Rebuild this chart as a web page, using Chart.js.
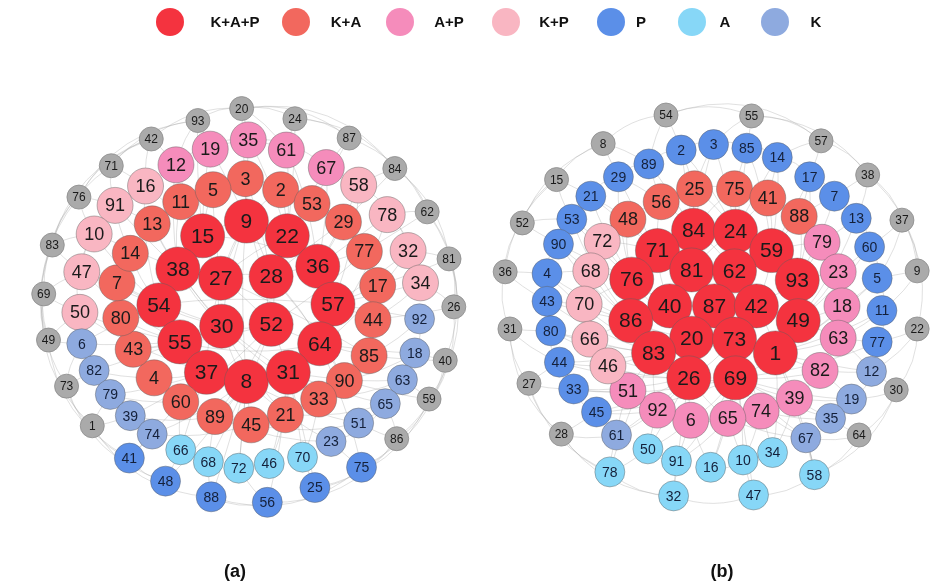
<!DOCTYPE html>
<html>
<head>
<meta charset="utf-8">
<script src="https://cdn.jsdelivr.net/npm/chart.js@4.4.1/dist/chart.umd.min.js"></script>
<style>
  html, body { margin: 0; padding: 0; background: #fff; }
  canvas { display: block; }
</style>
</head>
<body>
<canvas id="net" width="939" height="586"></canvas>
<script>
const categories = ['K+A+P', 'K+A', 'A+P', 'K+P', 'P', 'A', 'K'];
const panelNames = ['(a)', '(b)'];

// panel (a) nodes: [id, x, y] in layout units
const aKAP = [[9, 235, 215], [22, 278, 231], [15, 189, 231], [38, 163, 267], [27, 208, 277], [28, 261, 275], [36, 310, 264], [57, 326, 305], [54, 143, 306], [30, 209, 329], [52, 261, 327], [64, 312, 348], [55, 165, 346], [37, 193, 379], [8, 235, 389], [31, 279, 379]];
const aKA = [[3, 234, 169], [2, 271, 181], [53, 304, 196], [29, 337, 216], [77, 359, 248], [17, 373, 285], [44, 368, 322], [85, 364, 361], [90, 338, 388], [33, 311, 408], [21, 276, 425], [45, 240, 436], [89, 202, 427], [60, 166, 411], [4, 138, 385], [43, 116, 354], [80, 103, 320], [7, 99, 282], [14, 113, 250], [13, 136, 218], [11, 166, 194], [5, 200, 181]];
const aAP = [[19, 197, 137], [12, 161, 154], [35, 237, 127], [61, 277, 138], [67, 319, 157]];
const aKP = [[16, 129, 177], [91, 97, 198], [10, 75, 229], [47, 62, 270], [50, 60, 314], [58, 353, 176], [78, 383, 208], [32, 405, 247], [34, 418, 282]];
const aP = [[41, 112, 472], [48, 150, 497], [88, 198, 514], [56, 257, 520], [25, 307, 504], [75, 356, 482]];
const aA = [[66, 166, 463], [68, 195, 476], [72, 227, 483], [46, 259, 478], [70, 294, 471]];
const aK = [[6, 62, 348], [82, 75, 377], [79, 92, 403], [39, 113, 426], [74, 136, 446], [92, 417, 321], [18, 412, 358], [63, 399, 387], [65, 381, 413], [51, 353, 434], [23, 324, 454]];
const aNone = [[20, 230, 93], [93, 184, 106], [42, 135, 126], [71, 93, 155], [76, 59, 189], [83, 31, 241], [69, 22, 294], [49, 27, 344], [73, 46, 394], [1, 73, 437], [24, 286, 104], [87, 343, 125], [84, 391, 158], [62, 425, 205], [81, 448, 256], [26, 453, 308], [40, 444, 366], [59, 427, 408], [86, 393, 451]];

// panel (b) nodes
const bKAP = [[84, 705, 225], [24, 749, 226], [71, 667, 247], [59, 787, 247], [81, 703, 268], [62, 748, 269], [76, 640, 278], [93, 814, 279], [40, 680, 307], [87, 727, 307], [42, 771, 307], [86, 639, 323], [49, 815, 323], [20, 703, 342], [73, 748, 343], [83, 663, 358], [1, 791, 358], [26, 700, 385], [69, 749, 385]];
const bKA = [[25, 706, 180], [75, 748, 180], [56, 671, 194], [41, 783, 190], [48, 636, 213], [88, 816, 210]];
const bAP = [[79, 840, 238], [23, 857, 270], [18, 861, 307], [63, 857, 342], [82, 838, 377], [39, 811, 407], [74, 776, 421], [65, 741, 429], [6, 702, 431], [92, 667, 420], [51, 636, 399]];
const bKP = [[72, 609, 237], [68, 597, 269], [70, 590, 305], [66, 596, 343], [46, 615, 372]];
const bP = [[2, 692, 138], [3, 726, 132], [85, 761, 136], [14, 793, 146], [89, 658, 153], [29, 626, 167], [17, 827, 167], [21, 597, 188], [7, 853, 188], [53, 577, 213], [13, 876, 212], [90, 563, 240], [60, 890, 243], [4, 551, 272], [5, 898, 277], [43, 551, 302], [11, 903, 312], [80, 555, 334], [77, 898, 346], [44, 564, 368], [33, 579, 397], [45, 603, 422]];
const bK = [[61, 624, 447], [12, 892, 378], [19, 871, 408], [35, 849, 429], [67, 823, 450]];
const bA = [[50, 657, 462], [91, 687, 475], [78, 617, 487], [32, 684, 513], [16, 723, 482], [10, 757, 474], [34, 788, 466], [47, 768, 512], [58, 832, 490]];
const bNone = [[54, 676, 100], [55, 766, 101], [8, 610, 131], [57, 839, 128], [15, 561, 170], [38, 888, 165], [52, 525, 217], [37, 924, 214], [36, 507, 270], [9, 940, 269], [31, 512, 332], [22, 940, 332], [27, 532, 391], [30, 918, 398], [28, 566, 446], [64, 879, 447]];

// links, "id-id"
const aEdges = `9-22 9-15 9-27 9-28 9-30 9-52 9-8 22-36 22-28 22-27 22-57 15-38 15-27 15-54 38-54 38-27 38-30 27-28 27-30 27-52
28-52 28-36 28-64 36-57 36-64 57-64 57-31 54-55 54-30 55-37 55-30 30-52 30-8 52-64 52-31 52-8 64-31 37-8 8-31 37-31
54-57 15-36 38-31 55-64 9-37 3-9 2-22 5-15 11-38 13-38 14-54 7-54 80-55 43-55 4-37 60-37 89-8 45-8 21-31 33-31 90-64
85-64 44-57 17-57 77-36 29-36 53-22 3-28 2-9 5-27 11-27 13-30 7-30 43-52 60-52 89-52 21-30 33-30 90-28 85-27 77-52 29-28
35-9 61-22 19-15 12-38 67-36 16-54 91-13 10-38 47-55 50-37 58-57 78-64 32-31 34-44 6-55 82-4 79-60 39-89 74-45 92-85
18-90 63-33 65-21 51-45 23-89 66-60 68-89 72-8 46-21 70-33 41-74 48-66 88-68 56-72 25-70 75-23 20-35 20-61 93-19 42-12
71-16 76-91 83-10 69-47 49-6 73-82 1-79 24-61 87-67 84-58 62-78 81-32 26-34 40-18 59-63 86-65 20-9 93-15 24-22 87-53
84-29 62-77 81-17 26-44 40-85 59-90 86-51 1-39 73-6 49-50 69-50 83-47 76-10 71-91 42-16 93-12 20-93 20-24 42-71 76-83
69-49 73-1 24-87 84-62 81-26 40-59 59-86 41-48 88-56 25-75 20-84 93-71 83-49 1-41 86-75 62-26 24-84 42-76 14-91 7-47
20-87 20-42 93-76 42-83 71-69 76-49 83-73 69-1 49-41 73-48 1-88 87-62 84-81 62-40 81-59 26-86 40-75 59-25 86-56 75-88
6-79 82-39 79-74 92-63 18-65 63-51 65-23 16-10 91-47 10-50 58-32 78-34 19-61 12-35 35-67 6-54 82-55 79-37 39-37 74-8
92-57 18-64 63-31 65-31 51-8 23-8 66-37 68-8 72-8 46-31 70-31 41-37 48-8 88-8 56-31 25-31 75-64 16-15 91-38 10-54
47-54 50-55 58-36 78-36 32-57 34-57 19-9 12-15 35-22 61-36 67-22 3-2 2-53 53-29 29-77 77-17 17-44 44-85 85-90 90-33
33-21 21-45 45-89 89-60 60-4 4-43 43-80 80-7 7-14 14-13 13-11 11-5 5-3 3-53 5-13 14-80 43-60 89-21 33-85 44-77 29-2`;

const bEdges = `84-24 84-71 84-81 24-59 24-62 71-76 71-81 81-62 81-87 81-40 62-59 62-42 59-93 93-49 93-42 76-86 76-40 40-87 40-20
87-42 87-73 42-49 42-1 49-1 86-83 86-20 83-26 83-20 20-73 20-26 26-69 73-69 73-1 1-69 84-62 71-40 76-20 59-42 62-87
24-81 93-1 86-40 83-73 26-73 69-42 25-84 75-24 41-59 88-59 56-71 48-71 25-24 75-84 41-24 88-93 56-84 48-76 79-59 23-93
18-49 63-49 82-1 39-1 74-69 65-69 6-26 92-26 51-83 79-93 23-49 18-1 63-1 82-69 39-69 74-73 65-26 6-69 92-83 72-71 68-76
70-86 66-86 46-83 72-76 68-86 70-76 66-83 46-26 2-25 3-25 85-75 14-41 17-88 7-88 13-79 60-23 5-18 11-63 77-63 89-56
29-56 21-48 53-72 90-68 4-68 43-70 80-66 44-46 33-51 45-92 2-84 3-24 85-24 14-59 17-59 29-71 21-71 53-76 90-76 4-86
43-86 80-83 44-83 33-26 45-26 61-92 67-74 35-39 19-82 12-82 61-51 67-65 35-74 19-39 12-63 50-6 91-6 78-50 32-91 16-65
10-65 34-74 47-10 58-67 50-92 91-65 16-6 10-74 34-39 58-39 54-2 54-89 55-3 55-85 8-29 8-89 57-14 57-17 38-7 38-13 15-21
15-53 52-90 52-53 37-60 37-5 9-5 9-11 36-4 36-43 31-80 31-44 22-77 22-12 27-33 27-44 30-19 30-12 28-45 28-61 64-35
64-67 28-78 64-58 54-55 8-15 57-38 52-36 31-27 37-9 22-30 28-32 64-30 58-47 32-47 54-8 55-57 15-52 36-31 38-37 27-28
38-9 37-22 31-28 27-78 30-58 55-38 54-57 8-52 15-36 2-3 3-85 85-14 14-17 17-7 7-13 13-60 60-5 5-11 11-77 77-12 12-19
19-35 35-67 67-58 2-89 89-29 29-21 21-53 53-90 90-4 4-43 43-80 80-44 44-33 33-45 45-61 61-78 50-91 16-10 10-34 78-32
2-24 3-84 85-59 14-24 17-93 7-93 13-49 60-49 5-1 11-1 77-69 89-84 29-76 21-76 53-86 90-86 4-83 43-83 80-26 44-26 33-69
45-69 12-1 19-69 35-69 67-69 61-26 50-26 91-69 16-69 10-73 34-1 58-1 47-69 32-26 78-83 79-23 23-18 18-63 63-82 82-39
39-74 74-65 65-6 6-92 92-51 51-46 46-66 66-70 70-68 68-72 72-48 48-56 56-25 25-75 75-41 41-88 88-79`;

const fills = { 'K+A+P': '#f4333f', 'K+A': '#f2685e', 'A+P': '#f58cbb', 'K+P': '#f9b6c2', P: '#5b8fe8', A: '#87d7f7', K: '#8eaadf', none: '#aaaaaa' };
const sizes = { 'K+A+P': 22, 'K+A': 18, 'A+P': 18, 'K+P': 18, P: 15, A: 15, K: 15, none: 12 };
const fontPx = { 'K+A+P': 21, 'K+A': 18, 'A+P': 18, 'K+P': 18, P: 14, A: 14, K: 14, none: 12 };

const panels = [
  { cx: 237, cy: 307, edges: aEdges, groups: { none: aNone, K: aK, A: aA, P: aP, 'K+P': aKP, 'A+P': aAP, 'K+A': aKA, 'K+A+P': aKAP } },
  { cx: 723, cy: 306, edges: bEdges, groups: { none: bNone, K: bK, A: bA, P: bP, 'K+P': bKP, 'A+P': bAP, 'K+A': bKA, 'K+A+P': bKAP } }
];

const datasets = [];
panels.forEach((panel, p) => {
  Object.entries(panel.groups).forEach(([group, nodes]) => {
    datasets.push({
      label: group,
      panel: p,
      group,
      ids: nodes.map(n => String(n[0])),
      data: nodes.map(n => ({ x: n[1], y: n[2] })),
      pointRadius: sizes[group],
      pointHoverRadius: sizes[group],
      backgroundColor: fills[group],
      borderColor: group === 'none' ? '#8c8c8c' : 'rgba(95,95,95,0.55)',
      borderWidth: 0.8,
      clip: false
    });
  });
});

const edgePlugin = {
  id: 'edges',
  beforeDatasetsDraw (chart) {
    const ctx = chart.ctx;
    panels.forEach((panel, p) => {
      const pos = {};
      chart.data.datasets.forEach((ds, i) => {
        if (ds.panel !== p) return;
        chart.getDatasetMeta(i).data.forEach((el, j) => { pos[ds.ids[j]] = el; });
      });
      const cx = chart.scales.x.getPixelForValue(panel.cx);
      const cy = chart.scales.y.getPixelForValue(panel.cy);
      ctx.save();
      ctx.lineWidth = 0.7;
      panel.edges.trim().split(/\s+/).forEach(pair => {
        const [u, v] = pair.split('-');
        const a = pos[u];
        const b = pos[v];
        if (!a || !b) return;
        const ra = Math.hypot(a.x - cx, a.y - cy);
        const rb = Math.hypot(b.x - cx, b.y - cy);
        const mx = (a.x + b.x) / 2;
        const my = (a.y + b.y) / 2;
        const len = Math.hypot(b.x - a.x, b.y - a.y);
        const dx = mx - cx;
        const dy = my - cy;
        const d = Math.hypot(dx, dy) || 1;
        // outer links follow the ring, inner ones bow a little
        const outer = Math.min(ra, rb) > 150;
        const bend = outer ? 2.4 * ((ra + rb) / 2 - d) + 6 : 0.12 * len;
        ctx.strokeStyle = outer ? 'rgba(165,165,165,0.5)' : 'rgba(145,145,145,0.4)';
        ctx.beginPath();
        ctx.moveTo(a.x, a.y);
        ctx.quadraticCurveTo(mx + dx / d * bend, my + dy / d * bend, b.x, b.y);
        ctx.stroke();
      });
      ctx.restore();
    });
  }
};

const labelPlugin = {
  id: 'nodeLabels',
  afterDatasetsDraw (chart) {
    const ctx = chart.ctx;
    ctx.save();
    ctx.textAlign = 'center';
    ctx.textBaseline = 'middle';
    chart.data.datasets.forEach((ds, i) => {
      ctx.font = fontPx[ds.group] + 'px "Liberation Sans", Arial, sans-serif';
      ctx.fillStyle = ds.group === 'P' || ds.group === 'K' || ds.group === 'A' ? '#14203a' : '#1a1a1a';
      chart.getDatasetMeta(i).data.forEach((el, j) => {
        ctx.fillText(ds.ids[j], el.x, el.y + 1);
      });
    });
    ctx.restore();
  }
};

const legendPlugin = {
  id: 'keyAndTitles',
  afterDraw (chart) {
    const ctx = chart.ctx;
    const dotX = [170, 296, 400, 506, 611, 692, 775];
    const textX = [235, 346, 449, 554, 641, 725, 816];
    ctx.save();
    categories.forEach((c, i) => {
      ctx.beginPath();
      ctx.arc(dotX[i], 22, 14, 0, Math.PI * 2);
      ctx.fillStyle = fills[c];
      ctx.fill();
      ctx.fillStyle = '#111';
      ctx.font = 'bold 15px "Liberation Sans Narrow", "Liberation Sans", Arial, sans-serif';
      ctx.textAlign = 'center';
      ctx.textBaseline = 'middle';
      ctx.fillText(c, textX[i], 23);
    });
    ctx.font = 'bold 18px "Liberation Sans", Arial, sans-serif';
    ctx.fillText(panelNames[0], 235, 572);
    ctx.fillText(panelNames[1], 722, 572);
    ctx.restore();
  }
};

// eslint-disable-next-line no-undef
const chart = new Chart('net', {
  type: 'scatter',
  data: { datasets },
  options: {
    responsive: false,
    animation: false,
    events: [],
    layout: { padding: 0 },
    plugins: {
      legend: { display: false },
      tooltip: { enabled: false }
    },
    scales: {
      x: { type: 'linear', min: 0, max: 939, display: false },
      y: { type: 'linear', min: 0, max: 586, reverse: true, display: false }
    }
  },
  plugins: [edgePlugin, labelPlugin, legendPlugin]
});
</script>
</body>
</html>
